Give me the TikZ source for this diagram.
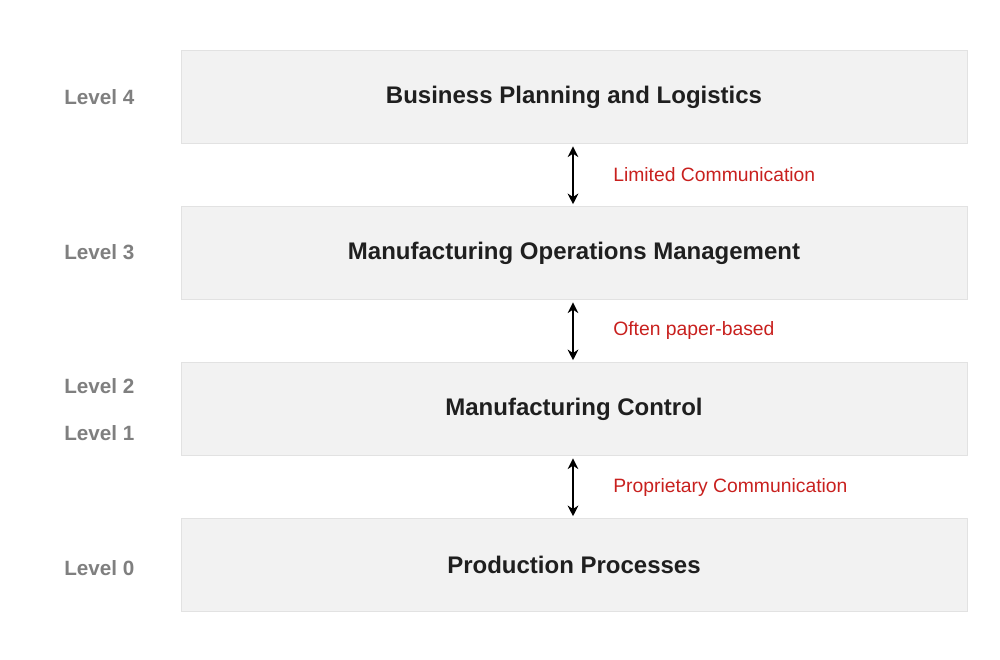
\documentclass[tikz,border=0pt]{standalone}
\usepackage{fontspec}
\setmainfont{Liberation Sans}
\usetikzlibrary{arrows.meta}
\definecolor{boxfill}{HTML}{F2F2F2}
\definecolor{boxline}{HTML}{E2E2E2}
\definecolor{lvl}{HTML}{7F7F7F}
\definecolor{redtxt}{HTML}{C8201E}
\tikzset{
  layer/.style={draw=boxline, fill=boxfill, minimum width=786*0.75pt, minimum height=93*0.75pt, inner sep=0pt, font=\fontsize{18}{22}\selectfont\bfseries, text=black!88},
  lvltxt/.style={anchor=west, inner sep=0pt, text=lvl, font=\fontsize{15.5}{18}\selectfont\bfseries},
  note/.style={anchor=west, inner sep=0pt, text=redtxt, font=\fontsize{14.5}{17}\selectfont},
  link/.style={{Stealth[length=8pt,width=8pt]}-{Stealth[length=8pt,width=8pt]}, line width=1.3pt}
}
\begin{document}
\begin{tikzpicture}[x=0.75pt,y=-0.75pt]
\useasboundingbox (0,0) rectangle (1000,660);
\node[layer] (b4) at (574,97) {Business Planning and Logistics};
\node[layer] (b3) at (574,253) {Manufacturing Operations Management};
\node[layer] (b2) at (574,409) {Manufacturing Control};
\node[layer] (b0) at (574,565) {Production Processes};
\path[use as bounding box] (0,0);
\node[lvltxt] (l4) at (64,97) {Level 4};
\node[lvltxt] (l3) at (64,252) {Level 3};
\node[lvltxt] (l2) at (64,386) {Level 2};
\node[lvltxt] (l1) at (64,433) {Level 1};
\node[lvltxt] (l0) at (64,568) {Level 0};
\draw[link] ([yshift=-2pt]b4.south -| 573,0) -- ([yshift=1.5pt]b3.north -| 573,0);
\draw[link] ([yshift=-2pt]b3.south -| 573,0) -- ([yshift=1.5pt]b2.north -| 573,0);
\draw[link] ([yshift=-2pt]b2.south -| 573,0) -- ([yshift=1.5pt]b0.north -| 573,0);
\node[note] (n1) at (613,175) {Limited Communication};
\node[note] (n2) at (613,330) {Often paper-based};
\node[note] (n3) at (613,487) {Proprietary Communication};
\end{tikzpicture}
\end{document}
